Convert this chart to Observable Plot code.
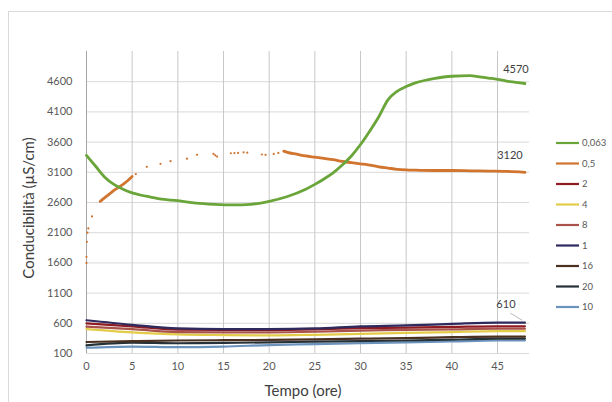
<!DOCTYPE html>
<html>
<head>
<meta charset="utf-8">
<script src="https://cdn.jsdelivr.net/npm/d3@7"></script>
<script src="https://cdn.jsdelivr.net/npm/@observablehq/plot@0.6"></script>
<style>
  html, body { margin: 0; padding: 0; background: #fff; }
  #wrap { position: relative; width: 612px; height: 402px; overflow: hidden; font-family: Lato, "Open Sans", sans-serif; }
  #frame { position: absolute; left: 8px; top: 11px; width: 640px; height: 420px; border: 1px solid #d9d9d9; box-sizing: border-box; }
  #chart { position: absolute; left: 0; top: 0; }
</style>
</head>
<body>
<div id="wrap"><div id="frame"></div><div id="chart"></div></div>
<script>
// ---- data ----
const greenT = [0,1,2,3,4,5,6,7,8,10,12,14,16,18,20,22,24,25,26,27,28,29,30,31,32,33,34,35,36,37,38,40,42,43,44,45,46,47,48];
const greenV = [3380,3200,3020,2900,2820,2760,2720,2690,2660,2630,2590,2570,2560,2570,2620,2700,2820,2900,2990,3090,3220,3370,3560,3780,4020,4300,4440,4520,4580,4620,4650,4690,4700,4680,4660,4640,4610,4590,4570];

const orangeT1 = [1.5,2,2.5,3,3.5,4,4.5,5];
const orangeV1 = [2620,2680,2740,2800,2850,2900,2960,3030];
const orangeDotT = [0,0,0.05,0.1,0.2,0.6,5.4,6.6,8.1,9.2,11,12.1,13.9,14.1,14.3,15.8,16.2,16.6,17.2,17.6,19.2,19.6,20.5,21];
const orangeDotV = [1600,1700,1950,2100,2170,2370,3070,3190,3240,3285,3325,3390,3405,3380,3360,3415,3418,3420,3430,3425,3395,3390,3405,3420];
const orangeT2 = [21.6,22,23,24,25,26,27,28,29,30,31,32,33,34,35,36,38,40,42,44,46,48];
const orangeV2 = [3450,3430,3400,3370,3350,3330,3310,3280,3260,3240,3220,3190,3170,3150,3140,3135,3130,3130,3125,3120,3115,3100];

const lowT = [0,5,10,15,20,25,30,35,40,45,48];
const s1  = [650,575,515,505,505,515,550,565,590,610,610];
const s2  = [600,550,495,490,490,500,520,530,540,550,550];
const s8  = [545,505,455,450,450,460,480,490,500,510,510];
const s4  = [505,450,415,405,400,410,425,440,455,470,470];
const s16 = [290,305,315,320,325,335,345,355,370,380,380];
const s20 = [235,280,270,275,285,295,305,315,330,345,345];
const s10 = [195,215,205,215,240,255,270,285,300,315,315];

const seriesNames = ["0,063","0,5","2","4","8","1","16","20","10"];
const seriesColors = ["#6aa53a","#d0742e","#8e1a22","#e3cc4a","#a8524a","#2e2a5e","#4a3020","#263238","#6a93bd"];

const yTicks = [100,600,1100,1600,2100,2600,3100,3600,4100,4600];
const xTicks = [0,5,10,15,20,25,30,35,40,45];
const endLabels = ["4570","3120","610"];

// ---- build tables ----
const col = n => seriesColors[seriesNames.indexOf(n)];
const toRows = (T, V) => T.map((t, i) => ({t, v: V[i]}));
const green = toRows(greenT, greenV);
const or1 = toRows(orangeT1, orangeV1);
const or2 = toRows(orangeT2, orangeV2);
const orDots = toRows(orangeDotT, orangeDotV);
const lows = [["10", s10],["20", s20],["16", s16],["4", s4],["8", s8],["2", s2],["1", s1]];
const lowRows = lows.flatMap(([n, V]) => lowT.map((t, i) => ({name: n, t, v: V[i]})));

const lastG = green[green.length-1], lastO = or2[or2.length-1];
const last1 = {t: lowT[lowT.length-1], v: s1[s1.length-1]};

const plot = Plot.plot({
  width: 612, height: 402,
  marginLeft: 86, marginRight: 83, marginTop: 51, marginBottom: 49,
  style: {fontFamily: "Lato, 'Open Sans', sans-serif", fontSize: "11px", color: "#595959", background: "transparent"},
  x: {domain: [0, 48.5]},
  y: {domain: [100, 5100]},
  color: {domain: seriesNames, range: seriesColors},
  marks: [
    Plot.gridY(yTicks, {stroke: "#d9d9d9", strokeOpacity: 1}),
    Plot.gridX(xTicks.slice(1), {stroke: "#c8c8c8", strokeOpacity: 1}),
    Plot.ruleX([0], {stroke: "#a6a6a6"}),
    Plot.ruleY([100], {stroke: "#d9d9d9"}),
    Plot.axisY(yTicks, {tickSize: 0, tickPadding: 14, label: null, fill: "#595959", tickFormat: d => String(d)}),
    Plot.axisX(xTicks, {tickSize: 0, tickPadding: 9, label: null, fill: "#595959", tickFormat: d => String(d)}),
    Plot.line(lowRows, {x: "t", y: "v", z: "name", stroke: d => col(d.name), strokeWidth: 2.2, curve: "monotone-x"}),
    Plot.line(or1, {x: "t", y: "v", stroke: col("0,5"), strokeWidth: 2.8}),
    Plot.dot(orDots, {x: "t", y: "v", r: 1.1, fill: col("0,5"), stroke: null}),
    Plot.line(or2, {x: "t", y: "v", stroke: col("0,5"), strokeWidth: 2.8, curve: "monotone-x"}),
    Plot.line(green, {x: "t", y: "v", stroke: col("0,063"), strokeWidth: 2.8, curve: "monotone-x"}),
    Plot.text([lastG], {x: "t", y: "v", text: () => endLabels[0], dx: -9, dy: -14, fill: "#404040", fontSize: 11}),
    Plot.text([lastO], {x: "t", y: "v", text: () => endLabels[1], dx: -15, dy: -17, fill: "#404040", fontSize: 11}),
    Plot.text([last1], {x: "t", y: "v", text: () => endLabels[2], dx: -19, dy: -18, fill: "#404040", fontSize: 11}),
    Plot.link([last1], {x1: d => d.t - 1.6, y1: d => d.v + 160, x2: d => d.t - 0.3, y2: d => d.v + 40, stroke: "#a6a6a6", strokeWidth: 0.8})
  ]
});

const svg = d3.select(plot);
// axis titles
svg.append("text").attr("x", 303).attr("y", 396).attr("text-anchor", "middle")
  .attr("font-size", 15).attr("fill", "#404040").text("Tempo (ore)");
svg.append("text").attr("transform", "translate(34,208) rotate(-90)").attr("text-anchor", "middle")
  .attr("font-size", 15).attr("fill", "#404040").text("Conducibilità (µS/cm)");
// legend
const lg = svg.append("g").attr("font-size", 9.5).attr("fill", "#595959").attr("text-anchor", "start");
seriesNames.forEach((n, i) => {
  const y = 143 + i * 20.5;
  lg.append("line").attr("x1", 556).attr("x2", 579).attr("y1", y).attr("y2", y)
    .attr("stroke", seriesColors[i]).attr("stroke-width", 2.2);
  lg.append("text").attr("x", 582).attr("y", y).attr("dy", "0.35em").attr("text-anchor", "start").text(n);
});

document.getElementById("chart").appendChild(plot);
</script>
</body>
</html>
